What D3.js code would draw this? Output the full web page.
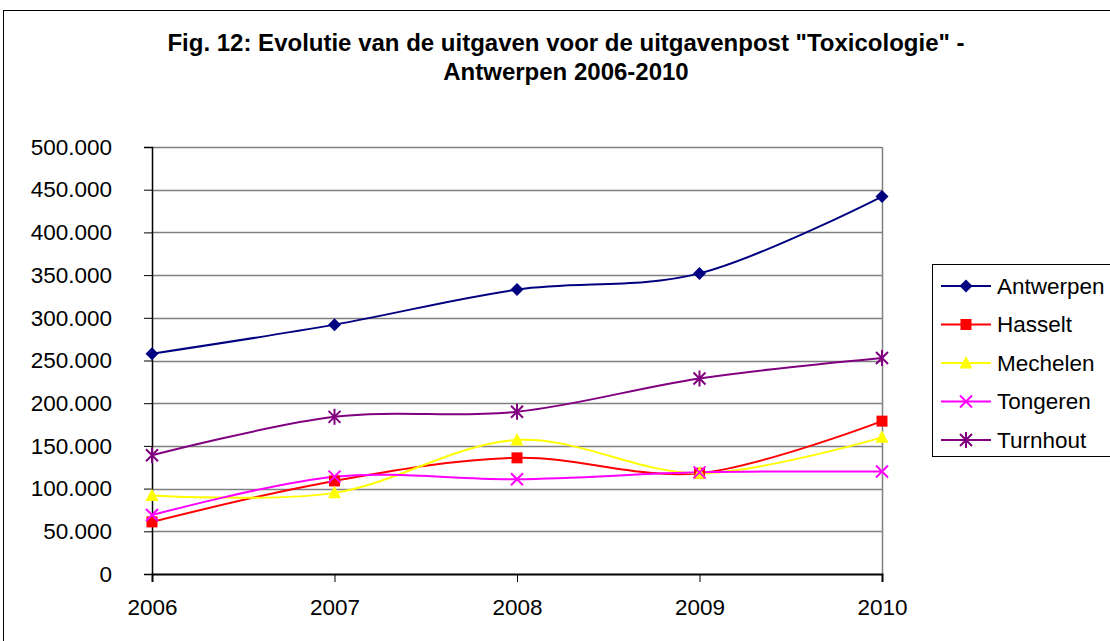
<!DOCTYPE html>
<html>
<head>
<meta charset="utf-8">
<script src="https://cdn.jsdelivr.net/npm/d3@7"></script>
<style>
  html, body { margin: 0; background: #fff; overflow: hidden; }
  svg { display: block; }
  text { font-family: "Liberation Sans", Arial, sans-serif; fill: #000; }
</style>
</head>
<body>
<div id="chart"></div>
<script>
// Data.
var years = ["2006", "2007", "2008", "2009", "2010"];
var antwerpen = [258000, 292000, 333000, 352000, 442000];
var hasselt = [61000, 109000, 136000, 118000, 179000];
var mechelen = [92000, 95000, 157000, 118000, 160000];
var tongeren = [69000, 114000, 111000, 119000, 120000];
var turnhout = [139000, 184000, 190000, 229000, 253000];
var yTicks = [0, 50000, 100000, 150000, 200000, 250000, 300000, 350000, 400000, 450000, 500000];
var titleLines = ["Fig. 12: Evolutie van de uitgaven voor de uitgavenpost \"Toxicologie\" -",
                  "Antwerpen 2006-2010"];

var series = [
  { name: "Antwerpen", values: antwerpen, color: "#000080", marker: "diamond" },
  { name: "Hasselt", values: hasselt, color: "#ff0000", marker: "square" },
  { name: "Mechelen", values: mechelen, color: "#ffff00", marker: "triangle" },
  { name: "Tongeren", values: tongeren, color: "#ff00ff", marker: "cross" },
  { name: "Turnhout", values: turnhout, color: "#800080", marker: "star" }
];

var W = 1110, H = 641;
var plot = { left: 152, right: 882, top: 147, bottom: 574 };

var svg = d3.select("#chart").append("svg")
  .attr("width", W)
  .attr("height", H);

// Outer frame (runs off the right and bottom edges like the original).
svg.append("rect")
  .attr("x", 3.5).attr("y", 10.5)
  .attr("width", W + 50).attr("height", H + 50)
  .attr("fill", "none").attr("stroke", "#000").attr("stroke-width", 1);

// Title.
svg.append("text")
  .attr("text-anchor", "middle")
  .attr("font-weight", "bold")
  .attr("font-size", "24px")
  .selectAll("tspan")
  .data(titleLines)
  .enter().append("tspan")
  .attr("x", 566)
  .attr("y", function(d, i) { return 51 + i * 29; })
  .text(function(d) { return d; });

var x = d3.scalePoint().domain(years).range([plot.left, plot.right]);
var y = d3.scaleLinear().domain([0, 500000]).range([plot.bottom, plot.top]);
var fmt = function(v) { return d3.format(",")(v).replace(/,/g, "."); };

// Gridlines.
svg.append("g")
  .selectAll("line")
  .data(yTicks.filter(function(d) { return d > 0; }))
  .enter().append("line")
  .attr("x1", plot.left).attr("x2", plot.right)
  .attr("y1", function(d) { return Math.round(y(d)) + 0.5; })
  .attr("y2", function(d) { return Math.round(y(d)) + 0.5; })
  .attr("stroke", "#808080").attr("stroke-width", 1.5);

// Right border of plot.
svg.append("line")
  .attr("x1", plot.right + 0.5).attr("x2", plot.right + 0.5)
  .attr("y1", plot.top).attr("y2", plot.bottom)
  .attr("stroke", "#808080").attr("stroke-width", 1.5);

// Y axis.
var yAxis = d3.axisLeft(y).tickValues(yTicks).tickSize(8).tickPadding(32).tickFormat(fmt);
var gy = svg.append("g")
  .attr("transform", "translate(" + plot.left + ",0)")
  .call(yAxis);
gy.select(".domain").attr("stroke", "#000").attr("stroke-width", 1.5);
gy.selectAll(".tick line").attr("stroke", "#000");
gy.selectAll(".tick text")
  .attr("font-family", "Liberation Sans, Arial, sans-serif")
  .attr("font-size", "22.5px");

// X axis.
var xAxis = d3.axisBottom(x).tickSize(8).tickPadding(17);
var gx = svg.append("g")
  .attr("transform", "translate(0," + plot.bottom + ")")
  .call(xAxis);
gx.select(".domain").attr("stroke", "#000").attr("stroke-width", 2);
gx.selectAll(".tick line").attr("stroke", "#000");
gx.selectAll(".tick text")
  .attr("font-family", "Liberation Sans, Arial, sans-serif")
  .attr("font-size", "22.5px");

// Marker shapes.
function drawMarker(g, kind, color) {
  if (kind === "diamond") {
    g.append("path").attr("d", "M0,-6.5L6.5,0L0,6.5L-6.5,0Z").attr("fill", color);
  } else if (kind === "square") {
    g.append("rect").attr("x", -5.5).attr("y", -5.5).attr("width", 11).attr("height", 11).attr("fill", color);
  } else if (kind === "triangle") {
    g.append("path").attr("d", "M0,-7L6.5,5.5L-6.5,5.5Z").attr("fill", color);
  } else if (kind === "cross") {
    g.append("path").attr("d", "M-6,-6L6,6M-6,6L6,-6").attr("stroke", color).attr("stroke-width", 2).attr("fill", "none");
  } else if (kind === "star") {
    g.append("path").attr("d", "M-6,-6L6,6M-6,6L6,-6M0,-8L0,8").attr("stroke", color).attr("stroke-width", 2).attr("fill", "none");
  }
}

var line = d3.line()
  .x(function(d, i) { return x(years[i]); })
  .y(function(d) { return y(d); })
  .curve(d3.curveCardinal.tension(0));

var lines = svg.append("g");
series.forEach(function(s) {
  lines.append("path")
    .attr("d", line(s.values))
    .attr("fill", "none")
    .attr("stroke", s.color)
    .attr("stroke-width", 2);
});
series.forEach(function(s) {
  lines.selectAll(null)
    .data(s.values)
    .enter().append("g")
    .attr("transform", function(d, i) { return "translate(" + x(years[i]) + "," + y(d) + ")"; })
    .each(function() { drawMarker(d3.select(this), s.marker, s.color); });
});

// Legend (its right edge runs off the page, as in the original).
var legend = svg.append("g");
legend.append("rect")
  .attr("x", 932.5).attr("y", 264.5)
  .attr("width", 300).attr("height", 192)
  .attr("fill", "#fff").attr("stroke", "#000").attr("stroke-width", 1);

var item = legend.selectAll(".item")
  .data(series)
  .enter().append("g")
  .attr("class", "item")
  .attr("transform", function(d, i) { return "translate(0," + (286 + i * 38.5) + ")"; });

item.append("line")
  .attr("x1", 941).attr("x2", 991)
  .attr("stroke", function(d) { return d.color; })
  .attr("stroke-width", 2);
item.each(function(d) {
  var g = d3.select(this).append("g").attr("transform", "translate(966,0)");
  drawMarker(g, d.marker, d.color);
});
item.append("text")
  .attr("x", 997)
  .attr("dy", "0.35em")
  .attr("font-size", "22.5px")
  .text(function(d) { return d.name; });
</script>
</body>
</html>
